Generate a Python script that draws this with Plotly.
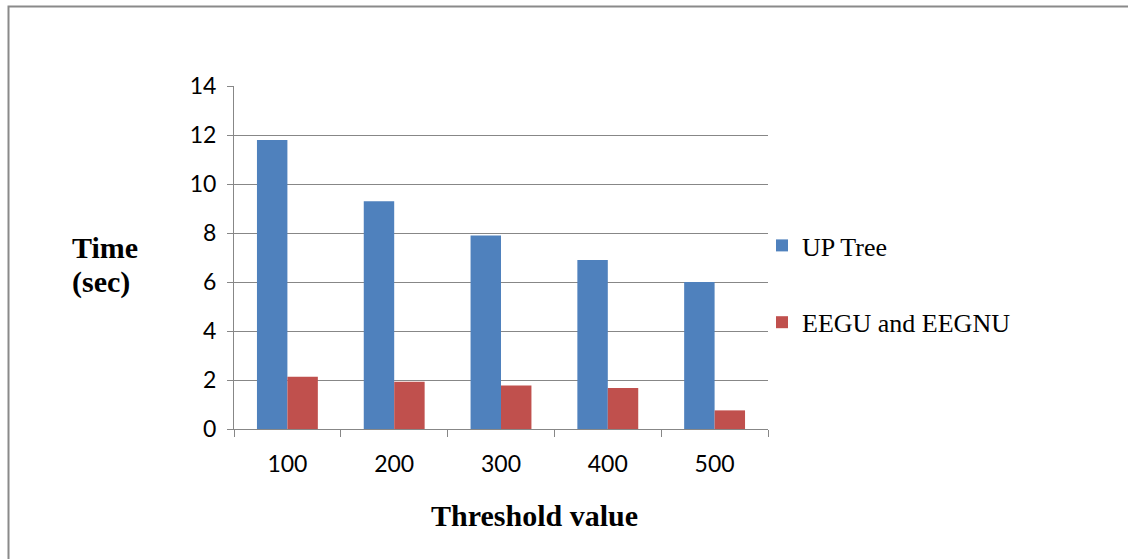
import plotly.graph_objects as go

categories = ["100", "200", "300", "400", "500"]
up_tree = [11.8, 9.3, 7.9, 6.9, 6.0]
eegu = [2.13, 1.93, 1.78, 1.67, 0.76]
series_names = ["UP Tree", "EEGU and EEGNU"]
y_ticks = [0, 2, 4, 6, 8, 10, 12, 14]

W, H = 1128, 559
# plot area in page coordinates
X0, X1, Y0, Y1 = 234, 768, 86, 429
L, T = X0, Y0
R = W - X1
B = H - Y1
pw, ph = X1 - X0, Y1 - Y0

def px(x):
    return (x - X0) / pw

def py(y):
    return (Y1 - y) / ph

grid = "#878787"

fig = go.Figure()
fig.add_trace(go.Bar(x=categories, y=up_tree, name=series_names[0],
                     marker=dict(color="#4F81BD", line=dict(width=0)),
                     legendgroup="a"))
fig.add_trace(go.Bar(x=categories, y=eegu, name=series_names[1],
                     marker=dict(color="#C0504D", line=dict(width=0)),
                     legendgroup="b"))

fig.update_layout(
    width=W, height=H,
    margin=dict(l=L, r=R, t=T, b=B, autoexpand=False),
    paper_bgcolor="white", plot_bgcolor="white",
    barmode="group", bargap=0.43, bargroupgap=0,
    showlegend=True,
    legend=dict(x=px(762), y=py(284), xanchor="left", yanchor="middle",
                font=dict(family="Liberation Serif", size=26, color="black"),
                tracegroupgap=40, itemwidth=30, bgcolor="rgba(0,0,0,0)"),
    xaxis=dict(type="category", showline=True, linecolor=grid, linewidth=1,
               ticks="outside", tickson="boundaries", ticklen=7, tickcolor=grid,
               showgrid=False, zeroline=False,
               tickfont=dict(family="Lato", size=23, color="black"),
               ticklabelstandoff=14),
    yaxis=dict(range=[0, 14], tickvals=y_ticks, showline=True, linecolor=grid,
               linewidth=1, ticks="outside", ticklen=6, tickcolor=grid,
               showgrid=True, gridcolor=grid, gridwidth=1, zeroline=False,
               tickfont=dict(family="Lato", size=23, color="black"),
               ticklabelstandoff=6),
    annotations=[
        dict(text="<b>Time</b>", xref="paper", yref="paper",
             x=px(70), y=py(248), xanchor="left", yanchor="middle",
             showarrow=False,
             font=dict(family="Liberation Serif", size=30, color="black")),
        dict(text="<b>(sec)</b>", xref="paper", yref="paper",
             x=px(70), y=py(282), xanchor="left", yanchor="middle",
             showarrow=False,
             font=dict(family="Liberation Serif", size=30, color="black")),
        dict(text="<b>Threshold value</b>", xref="paper", yref="paper",
             x=px(534), y=py(515), xanchor="center", yanchor="middle",
             showarrow=False,
             font=dict(family="Liberation Serif", size=30, color="black")),
    ],
    shapes=[
        dict(type="rect", xref="paper", yref="paper",
             x0=px(8.5), x1=px(1140), y0=py(570), y1=py(6.5),
             line=dict(color="#8a8a8a", width=2), fillcolor="rgba(0,0,0,0)",
             layer="below"),
    ],
)

fig.write_html("out.html",
               config={"displayModeBar": False},
               post_script="document.body.style.margin='0';document.body.style.overflow='hidden';")
